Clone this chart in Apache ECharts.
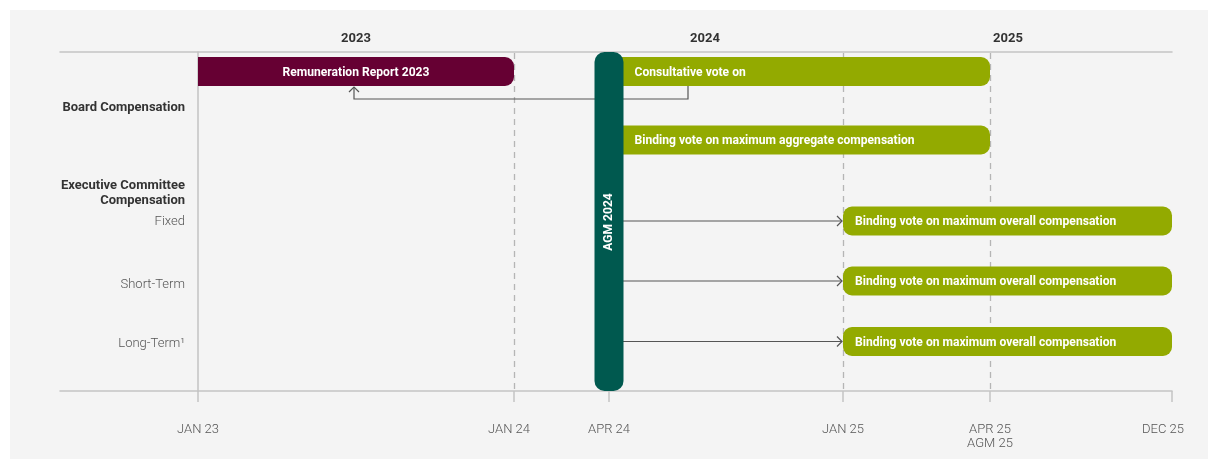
<!DOCTYPE html>
<html><head><meta charset="utf-8">
<script src="https://cdn.jsdelivr.net/npm/echarts@6/dist/echarts.min.js"></script>
<style>html,body{margin:0;padding:0;background:#fff}#c{width:1208px;height:459px}</style>
</head><body><div id="c"></div>
<script>
// ---- timeline (schematic positions along the time axis) ----
const tickLabels = ['JAN 23', 'JAN 24', 'APR 24', 'JAN 25', 'APR 25\nAGM 25', 'DEC 25'];
const tickPos = [0, 316, 411, 645, 792, 974];
const tickLabelPos = [0, 311, 411, 645, 792, 965];
const dashedTickIdx = [1, 3, 4];
const yearLabels = ['2023', '2024', '2025'];
const yearPos = [158, 507, 810];

// ---- rows ----
const rowLabels = ['Board Compensation', 'Executive Committee\nCompensation', 'Fixed', 'Short-Term', 'Long-Term¹'];
const rowLabelPos = [56, 141, 170, 233, 292];
const rowLabelKind = ['head', 'head', 'sub', 'sub', 'sub'];

// ---- bars ----
const barLabels = ['Remuneration Report 2023', 'Consultative vote on', 'Binding vote on maximum aggregate compensation',
  'Binding vote on maximum overall compensation', 'Binding vote on maximum overall compensation', 'Binding vote on maximum overall compensation'];
const barStart = [0, 411, 411, 645, 645, 645];
const barEnd = [316, 792, 792, 974, 974, 974];
const barRow = [19.5, 19.5, 88, 169, 229, 289.5];
const barKind = ['report', 'vote', 'vote', 'overall', 'overall', 'overall'];

// ---- AGM marker ----
const agmLabel = 'AGM 2024';
const agmPos = 411;
const agmFrom = 0, agmTo = 339, agmLabelRow = 170;

// ---- connectors ----
const arrowFrom = [411, 411, 411];
const arrowTo = [645, 645, 645];
const arrowRow = [169, 229, 289.5];
const elbowPath = [[490, 34], [490, 47], [156, 47], [156, 35]];

const C = { report: '#660033', vote: '#93aa00', overall: '#93aa00', agm: '#00594f', line: '#c3c3c3', arrow: '#555' };
const FONT = 'Roboto, "Noto Sans", sans-serif';

const chart = echarts.init(document.getElementById('c'), null, { renderer: 'canvas' });

const barData = barLabels.map((l, i) => [barStart[i], barEnd[i], barRow[i], i]);

function renderBar(params, api) {
  const i = api.value(3);
  const s = api.coord([api.value(0), api.value(2)]);
  const e = api.coord([api.value(1), api.value(2)]);
  const h = 29;
  const kind = barKind[i];
  const r = kind === 'overall' ? 9 : [0, 9, 9, 0];
  let tx, align;
  if (kind === 'report') { tx = (s[0] + e[0]) / 2; align = 'center'; }
  else if (kind === 'vote') { tx = s[0] + 14.5 + 11; align = 'left'; }
  else { tx = s[0] + 12; align = 'left'; }
  return {
    type: 'group', children: [
      { type: 'rect', shape: { x: s[0], y: s[1] - h / 2, width: e[0] - s[0], height: h, r: r }, style: { fill: C[kind] } },
      { type: 'text', style: { text: barLabels[i], x: tx, y: s[1] + 1, align: align, verticalAlign: 'middle', fill: '#fff', font: 'bold 12.1px ' + FONT } }
    ]
  };
}

function chevron(tip, dir) {
  const L = 5;
  if (dir === 'right') return [[tip[0] - L, tip[1] - L], tip, [tip[0] - L, tip[1] + L]];
  return [[tip[0] - L, tip[1] + L], tip, [tip[0] + L, tip[1] + L]];
}

function renderArrows(params, api) {
  const children = [];
  arrowFrom.forEach((f, i) => {
    const a = api.coord([f, arrowRow[i]]);
    const b = api.coord([arrowTo[i], arrowRow[i]]);
    children.push({ type: 'line', shape: { x1: a[0], y1: a[1], x2: b[0] - 1, y2: b[1] }, style: { stroke: C.arrow, lineWidth: 1.2 } });
    children.push({ type: 'polyline', shape: { points: chevron([b[0] - 1, b[1]], 'right') }, style: { stroke: C.arrow, lineWidth: 1.2, fill: null } });
  });
  const pts = elbowPath.map(p => api.coord(p));
  children.push({ type: 'polyline', shape: { points: pts }, style: { stroke: C.arrow, lineWidth: 1.2, fill: null } });
  children.push({ type: 'polyline', shape: { points: chevron(pts[pts.length - 1], 'up') }, style: { stroke: C.arrow, lineWidth: 1.2, fill: null } });
  return { type: 'group', children };
}

function renderGuides(params, api) {
  const children = dashedTickIdx.map(k => {
    const a = api.coord([tickPos[k], agmFrom]);
    const b = api.coord([tickPos[k], agmTo]);
    return { type: 'line', shape: { x1: Math.round(a[0]) + 0.5, y1: a[1] + 1, x2: Math.round(b[0]) + 0.5, y2: b[1] }, style: { stroke: '#b5b5b5', lineWidth: 1.3, lineDash: [6, 5] } };
  });
  return { type: 'group', children };
}

function renderAgm(params, api) {
  const a = api.coord([agmPos, agmFrom]);
  const b = api.coord([agmPos, agmTo]);
  const w = 29;
  const m = api.coord([agmPos, agmLabelRow]);
  return {
    type: 'group', children: [
      { type: 'rect', shape: { x: a[0] - w / 2, y: a[1], width: w, height: b[1] - a[1], r: 10 }, style: { fill: C.agm } },
      { type: 'text', x: m[0], y: m[1], rotation: Math.PI / 2, style: { text: agmLabel, x: 0, y: 0, align: 'center', verticalAlign: 'middle', fill: '#fff', font: 'bold 12.1px ' + FONT } }
    ]
  };
}

const option = {
  animation: false,
  backgroundColor: '#fff',
  textStyle: { fontFamily: FONT },
  graphic: [{ type: 'rect', z: -10, silent: true, shape: { x: 10, y: 10, width: 1198, height: 449 }, style: { fill: '#f4f4f4' } }],
  grid: { left: 60, right: 36, top: 52, bottom: 68, containLabel: false, outerBoundsMode: 'none' },
  xAxis: [{
    type: 'value', position: 'bottom', min: -138, max: 974,
    axisLine: { show: true, onZero: false, lineStyle: { color: C.line, width: 1.5 } },
    axisTick: { show: true, customValues: tickPos, length: 11, lineStyle: { color: C.line, width: 1.5 } },
    axisLabel: {
      customValues: tickLabelPos, margin: 31.5, color: '#555', fontSize: 13, fontWeight: 300, lineHeight: 14, verticalAlign: 'top',
      formatter: v => tickLabels[tickLabelPos.indexOf(v)]
    },
    splitLine: { show: false }
  }, {
    type: 'value', position: 'top', min: -138, max: 974,
    axisLine: { show: true, onZero: false, lineStyle: { color: C.line, width: 1.5 } },
    axisTick: { show: false },
    axisLabel: { customValues: yearPos, margin: 7, color: '#333', fontSize: 13, fontWeight: 'bold', formatter: v => yearLabels[yearPos.indexOf(v)] },
    splitLine: { show: false }
  }],
  yAxis: {
    type: 'value', min: 0, max: 339, inverse: true, position: 'left', offset: -138,
    axisLine: { show: true, onZero: false, lineStyle: { color: C.line, width: 1.5 } },
    axisTick: { show: false },
    splitLine: { show: false },
    axisLabel: {
      customValues: rowLabelPos, margin: 13,
      formatter: v => {
        const i = rowLabelPos.indexOf(v);
        const tag = rowLabelKind[i] === 'head' ? 'h' : 's';
        return rowLabels[i].split('\n').map(t => '{' + tag + '|' + t + '}').join('\n');
      },
      rich: {
        h: { fontWeight: 'bold', color: '#333', fontSize: 13, lineHeight: 15, align: 'right' },
        s: { fontWeight: 300, color: '#555', fontSize: 13, lineHeight: 15, align: 'right' }
      }
    }
  },
  series: [
    { type: 'custom', name: 'guides', z: 1, renderItem: renderGuides, data: [[0, 0]], silent: true },
    { type: 'custom', name: 'bars', z: 3, renderItem: renderBar, data: barData, encode: { x: [0, 1], y: 2 }, silent: true },
    { type: 'custom', name: 'arrows', z: 4, renderItem: renderArrows, data: [[0, 0]], silent: true },
    { type: 'custom', name: 'agm', z: 5, renderItem: renderAgm, data: [[agmPos, agmFrom]], silent: true }
  ]
};
chart.setOption(option);
</script>
</body></html>
